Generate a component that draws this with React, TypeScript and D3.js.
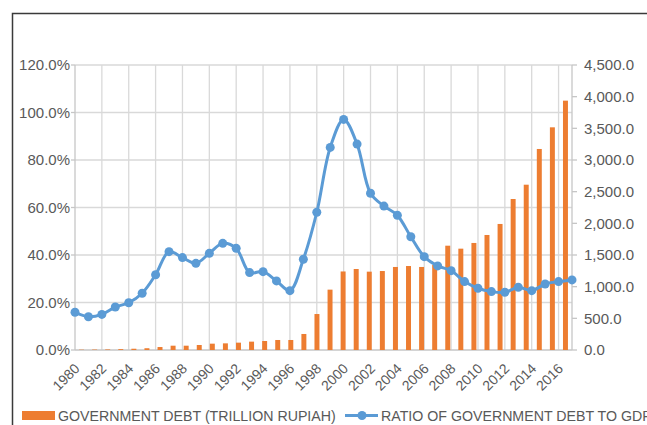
import React from "react";
import * as d3 from "d3";

// years on the category axis
const years = d3.range(1980, 2018);

// government debt, trillion rupiah (right axis, bars)
const debt = [
  5, 7, 9, 14, 20, 28, 47, 68, 68, 79, 100, 105, 116, 132, 142, 158, 158, 253,
  568, 953, 1240, 1279, 1237, 1247, 1311, 1326, 1311, 1342, 1647, 1600, 1690,
  1816, 1990, 2384, 2610, 3174, 3516, 3937,
];

// ratio of government debt to GDP, % (left axis, line)
const ratio = [
  15.9, 14.0, 15.0, 18.1, 19.9, 23.9, 31.7, 41.4, 38.9, 36.5, 40.7, 44.9, 42.8,
  32.6, 33.0, 29.1, 25.0, 38.2, 58.0, 85.3, 97.1, 86.7, 66.0, 60.6, 56.7, 47.7,
  39.3, 35.4, 33.4, 28.8, 26.0, 24.6, 24.3, 26.4, 25.0, 27.8, 28.8, 29.5,
];

const leftTicks = [0, 20, 40, 60, 80, 100, 120];
const rightTicks = [0, 500, 1000, 1500, 2000, 2500, 3000, 3500, 4000, 4500];
const labelYears = years.filter((y) => y % 2 === 0);

const legendLabels = [
  "GOVERNMENT DEBT (TRILLION RUPIAH)",
  "RATIO OF GOVERNMENT DEBT TO GDP",
];

const W = 647;
const H = 425;
const left = 75;
const right = 572;
const top = 65;
const bottom = 350;

const orange = "#ED7D31";
const blue = "#5B9BD5";
const grid = "#d9d9d9";
const textColor = "#595959";
const font = "Liberation Sans, Arial, sans-serif";

export default function App() {
  const xPoint = d3.scalePoint<number>().domain(years).range([left, right]);
  const xBand = d3
    .scaleBand<number>()
    .domain(years)
    .range([left, right])
    .paddingInner(0.62)
    .paddingOuter(0.31);
  const yLeft = d3.scaleLinear().domain([0, 120]).range([bottom, top]);
  const yRight = d3.scaleLinear().domain([0, 4500]).range([bottom, top]);

  const line = d3
    .line<number>()
    .x((_, i) => xPoint(years[i])!)
    .y((d) => yLeft(d))
    .curve(d3.curveCatmullRom.alpha(0.5));

  const fmtPct = d3.format(".1f");
  const fmtNum = d3.format(",.1f");

  return (
    <svg
      width={W}
      height={H}
      style={{ position: "absolute", left: 0, top: 0, background: "#fff" }}
      fontFamily={font}
    >
      {/* outer frame */}
      <path d={`M12.5,${H} V13.5 H${W}`} fill="none" stroke="#3a3a3a" strokeWidth={1.5} />

      {/* horizontal gridlines */}
      {leftTicks.slice(1).map((t) => (
        <line key={t} x1={left} x2={right} y1={yLeft(t)} y2={yLeft(t)} stroke={grid} strokeWidth={1.3} />
      ))}
      {/* vertical gridlines */}
      {labelYears.slice(1).map((y) => (
        <line key={y} x1={xPoint(y)} x2={xPoint(y)} y1={top} y2={bottom} stroke={grid} strokeWidth={1.3} />
      ))}

      {/* axes */}
      <line x1={left} x2={left} y1={top} y2={bottom} stroke="#c6c6c6" strokeWidth={1.3} />
      <line x1={right} x2={right} y1={top} y2={bottom} stroke="#c6c6c6" strokeWidth={1.3} />
      <line x1={left} x2={right} y1={bottom} y2={bottom} stroke="#c6c6c6" strokeWidth={1.3} />
      {leftTicks.map((t) => (
        <line key={t} x1={left - 4} x2={left} y1={yLeft(t)} y2={yLeft(t)} stroke="#c6c6c6" strokeWidth={1.3} />
      ))}
      {rightTicks.map((t) => (
        <line key={t} x1={right} x2={right + 5} y1={yRight(t)} y2={yRight(t)} stroke="#c6c6c6" strokeWidth={1.3} />
      ))}

      {/* bars */}
      {debt.map((d, i) => (
        <rect
          key={years[i]}
          x={xBand(years[i])}
          y={yRight(d)}
          width={xBand.bandwidth()}
          height={bottom - yRight(d)}
          fill={orange}
        />
      ))}

      {/* ratio line */}
      <path d={line(ratio)!} fill="none" stroke={blue} strokeWidth={3} strokeLinejoin="round" />
      {ratio.map((d, i) => (
        <circle key={years[i]} cx={xPoint(years[i])} cy={yLeft(d)} r={4.5} fill={blue} />
      ))}

      {/* left axis labels */}
      {leftTicks.map((t) => (
        <text key={t} x={70} y={yLeft(t)} dy="0.35em" textAnchor="end" fontSize={15} fill={textColor}>
          {fmtPct(t)}%
        </text>
      ))}
      {/* right axis labels */}
      {rightTicks.map((t) => (
        <text key={t} x={584} y={yRight(t)} dy="0.35em" fontSize={15} fill={textColor}>
          {fmtNum(t)}
        </text>
      ))}
      {/* year labels */}
      {labelYears.map((y) => (
        <text
          key={y}
          transform={`translate(${xPoint(y)! + 2},${bottom + 16}) rotate(-45)`}
          textAnchor="end"
          dy="0.35em"
          fontSize={14}
          fill={textColor}
        >
          {y}
        </text>
      ))}

      {/* legend */}
      <rect x={22} y={411} width={33} height={9} fill={orange} />
      <text x={58} y={420.5} fontSize={14.2} fill={textColor}>
        {legendLabels[0]}
      </text>
      <line x1={345} x2={378} y1={415.5} y2={415.5} stroke={blue} strokeWidth={3} />
      <circle cx={362} cy={415.5} r={4.5} fill={blue} />
      <text x={381} y={420.5} fontSize={14.2} fill={textColor}>
        {legendLabels[1]}
      </text>
    </svg>
  );
}
